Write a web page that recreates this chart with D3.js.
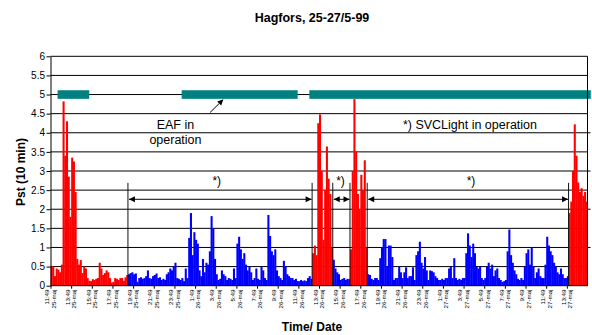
<!DOCTYPE html>
<html><head><meta charset="utf-8">
<script src="https://cdn.jsdelivr.net/npm/d3@7"></script>
<style>
body{margin:0;background:#fff}
svg{display:block;font-family:Arial,"Liberation Sans",sans-serif}
</style>
</head><body>
<svg id="c" width="592" height="335"></svg>
<script>
// Pst (10 min) values, one per 10-minute interval from 25-maj 11:49
const pst = [
  // 0-44 (no SVC)
  0.52,0.5,0.25,0.45,0.42,0.35,0.55,4.82,3.4,4.3,
  2.85,1.8,3.35,3.25,2.45,0.7,0.55,0.67,0.33,0.5,
  0.45,0.2,0.13,0.12,0.17,0.15,0.18,0.2,0.6,0.45,
  0.28,0.33,0.4,0.35,0.2,0.08,0.1,0.2,0.18,0.15,
  0.2,0.2,0.13,0.22,0.28,
  // 45-151 (SVC)
  0.3,0.33,0.35,0.3,0.32,0.1,0.2,0.22,0.18,0.2,
  0.25,0.4,0.2,0.18,0.25,0.28,0.32,0.2,0.22,0.15,
  0.18,0.15,0.3,0.35,0.45,0.4,0.5,0.6,0.2,0.18,
  0.15,0.2,0.12,0.45,0.2,1.25,1.9,0.8,1.4,1.2,
  1.1,0.4,0.25,0.7,0.35,0.6,0.55,0.9,1.82,1.5,
  0.7,0.3,0.15,0.18,0.4,0.3,0.25,0.15,0.2,0.18,
  0.15,0.45,0.2,1.1,1.28,0.95,0.7,0.85,0.55,0.4,
  0.5,0.35,0.15,0.2,0.45,0.18,0.15,0.5,0.4,0.2,
  0.15,1.85,1.3,0.9,0.8,0.95,0.4,0.25,0.2,0.15,
  0.65,0.5,0.3,0.25,0.2,0.2,0.15,0.18,0.12,0.12,
  0.15,0.12,0.14,0.12,0.2,0.25,0.18,
  // 152-163 (no SVC)
  0.85,1.05,0.8,4.25,4.48,3.0,1.2,2.5,3.64,2.8,2.4,1.0,
  // 164-173 (SVC)
  0.68,0.45,0.35,0.3,0.15,0.18,0.2,0.15,0.18,0.17,
  // 174-183 (no SVC)
  0.95,3.0,4.88,3.5,2.4,2.0,2.9,2.5,3.28,1.0,
  // 184-300 (SVC)
  0.3,0.28,0.18,0.15,0.2,0.2,0.15,0.72,1.0,1.22,
  1.22,0.5,1.05,1.05,0.75,0.15,0.2,0.2,0.5,0.35,
  0.2,0.35,0.48,0.2,0.25,0.25,0.48,0.15,0.8,0.9,
  1.15,0.6,0.45,0.75,0.4,0.15,0.4,0.38,0.35,0.25,
  0.2,0.15,0.15,0.18,0.15,0.2,0.2,0.45,0.5,0.2,
  0.72,0.2,0.15,0.18,0.15,0.2,0.2,0.85,1.37,1.05,
  0.75,1.1,0.85,0.5,0.45,0.5,0.2,0.15,0.2,0.5,
  0.6,0.45,0.55,0.25,0.4,0.45,0.2,0.15,0.1,0.12,
  0.15,0.9,1.47,0.8,0.6,0.4,0.3,0.18,0.15,0.2,
  0.15,0.5,0.85,0.95,0.55,1.0,0.5,0.2,0.35,0.45,
  0.25,0.2,0.2,0.55,1.28,1.05,0.9,0.8,0.6,0.5,
  0.35,0.3,0.45,0.3,0.2,0.2,0.25,
  // 301-311 (no SVC)
  1.9,2.2,3.0,4.22,3.4,2.7,2.45,2.55,2.35,2.45,2.2
];
const nPoints = 312;
const periodStart = [0, 45, 152, 164, 174, 184, 301];
const svcOn = [false, true, false, true, false, true, false];
const eafPeriods = [[4.1, 22.5], [76.2, 143.6], [150.4, 313.9]];
const eafLevel = 5;
const svcArrows = [[45, 152], [164, 174], [184, 301]];
const starLabelPos = [96.6, 168.5, 244.3];
const yTickValues = [0,0.5,1,1.5,2,2.5,3,3.5,4,4.5,5,5.5,6];
const tickEvery = 12;
const tickTimes = ["11:49","13:49","15:49","17:49","19:49","21:49","23:49","1:49","3:49","5:49","7:49","9:49","11:49",
  "13:49","15:49","17:49","19:49","21:49","23:49","1:49","3:49","5:49","7:49","9:49","11:49","13:49"];
const tickDates = ["25-maj","25-maj","25-maj","25-maj","25-maj","25-maj","25-maj","26-maj","26-maj","26-maj","26-maj","26-maj","26-maj",
  "26-maj","26-maj","26-maj","26-maj","26-maj","26-maj","27-maj","27-maj","27-maj","27-maj","27-maj","27-maj","27-maj"];

const svg = d3.select("#c");
const x = d3.scaleLinear().domain([0, nPoints]).range([50.5, 587.5]);
const y = d3.scaleLinear().domain([0, 6]).range([285.7, 56.3]);

function periodIndex(i){ let k = 0; periodStart.forEach((s, j) => { if (i >= s) k = j; }); return k; }

// gridlines
svg.append("g").selectAll("line").data(yTickValues.filter(v => v > 0)).join("line")
  .attr("x1", x(0)).attr("x2", x(nPoints)).attr("y1", d => y(d)).attr("y2", d => y(d))
  .attr("stroke", "#000").attr("stroke-width", 1);

// bars
svg.append("g").selectAll("rect").data(pst).join("rect")
  .attr("x", (d, i) => x(i))
  .attr("width", (d, i) => x(i + 1) - x(i) + 0.35)
  .attr("y", d => y(d))
  .attr("height", d => y(0) - y(d))
  .attr("fill", (d, i) => svcOn[periodIndex(i)] ? "#0000FF" : "#FF0000");

// EAF in operation bars
svg.append("g").selectAll("rect").data(eafPeriods).join("rect")
  .attr("x", d => x(d[0])).attr("width", d => x(d[1]) - x(d[0]))
  .attr("y", y(eafLevel) - 4.3).attr("height", 8.6)
  .attr("fill", "#008080");

// period marker lines
svg.append("g").selectAll("line").data(periodStart.slice(1)).join("line")
  .attr("x1", d => x(d)).attr("x2", d => x(d))
  .attr("y1", y(2.69)).attr("y2", y(0))
  .attr("stroke", "#111").attr("stroke-width", 1);

// arrows
const ay = y(2.26);
const ag = svg.append("g");
svgArrowsDraw();
function svgArrowsDraw(){
  svcArrows.forEach(([a, b]) => {
    const xa = x(a) + 1, xb = x(b) - 0.5;
    ag.append("line").attr("x1", xa).attr("x2", xb).attr("y1", ay).attr("y2", ay)
      .attr("stroke", "#000").attr("stroke-width", 1);
    ag.append("path").attr("d", `M${xa},${ay}L${xa+6},${ay-3}L${xa+6},${ay+3}Z`).attr("fill", "#000");
    ag.append("path").attr("d", `M${xb},${ay}L${xb-6},${ay-3}L${xb-6},${ay+3}Z`).attr("fill", "#000");
  });
}
svg.append("g").selectAll("text").data(starLabelPos).join("text")
  .attr("x", d => x(d)).attr("y", y(2.63)).attr("text-anchor", "middle")
  .attr("font-size", 12).attr("fill", "#000").text("*)");

// EAF annotation arrow
{
  const x1 = x(92.7), y1 = y(4.53), x2 = x(100.5), y2 = y(4.876);
  const ang = Math.atan2(y2 - y1, x2 - x1);
  const L = 6, W = 2.8;
  const bx = x2 - L * Math.cos(ang), by = y2 - L * Math.sin(ang);
  const px = -Math.sin(ang) * W, py = Math.cos(ang) * W;
  svg.append("line").attr("x1", x1).attr("y1", y1).attr("x2", bx).attr("y2", by)
    .attr("stroke", "#000").attr("stroke-width", 1);
  svg.append("path").attr("d", `M${x2},${y2}L${bx+px},${by+py}L${bx-px},${by-py}Z`).attr("fill", "#000");
}
svg.append("text").attr("x", x(72.6)).attr("y", y(4.1)).attr("text-anchor", "middle")
  .attr("font-size", 12.5).text("EAF in");
svg.append("text").attr("x", x(72.6)).attr("y", y(3.71)).attr("text-anchor", "middle")
  .attr("font-size", 12.5).text("operation");
svg.append("text").attr("x", x(243.7)).attr("y", y(4.1)).attr("text-anchor", "middle")
  .attr("font-size", 12.5).text("*) SVCLight in operation");

// right border + small ticks
svg.append("line").attr("x1", x(nPoints)).attr("x2", x(nPoints)).attr("y1", y(0)).attr("y2", y(6))
  .attr("stroke", "#000");
svg.append("g").selectAll("line").data([1,2,3,4]).join("line")
  .attr("x1", x(nPoints)).attr("x2", x(nPoints) + 3).attr("y1", d => y(d)).attr("y2", d => y(d))
  .attr("stroke", "#000");

// y axis
const yAxis = d3.axisLeft(y).tickValues(yTickValues).tickSize(4).tickSizeOuter(0)
  .tickFormat(d => String(d));
const yg = svg.append("g").attr("transform", `translate(${x(0)},0)`).call(yAxis);
yg.selectAll("text").attr("font-size", 10).attr("font-family", "Arial, 'Liberation Sans', sans-serif").attr("fill", "#000").attr("x", -5.5);
yg.selectAll("line,path").attr("stroke", "#000");

// x axis
const xTickIdx = tickTimes.map((t, k) => k * tickEvery);
const xAxis = d3.axisBottom(x).tickValues(xTickIdx).tickSize(3).tickSizeOuter(0).tickFormat("");
const xg = svg.append("g").attr("transform", `translate(0,${y(0)})`).call(xAxis);
xg.selectAll("line,path").attr("stroke", "#000");
xg.select(".domain").attr("d", `M${x(0)},0H${x(nPoints)}`);

const lab = svg.append("g").selectAll("text").data(xTickIdx).join("text")
  .attr("transform", d => `translate(${x(d)},289.5) rotate(-90)`)
  .attr("text-anchor", "end").attr("font-size", 6.2).attr("fill", "#000");
lab.append("tspan").attr("x", 0).attr("y", -1.3).text((d, k) => tickTimes[k]);
lab.append("tspan").attr("x", 0).attr("y", 5.3).text((d, k) => tickDates[k]);

// titles
svg.append("text").attr("x", 312).attr("y", 21.5).attr("text-anchor", "middle")
  .attr("font-size", 12.5).attr("font-weight", "bold").text("Hagfors, 25-27/5-99");
svg.append("text").attr("transform", "translate(24.5,172) rotate(-90)").attr("text-anchor", "middle")
  .attr("font-size", 12).attr("font-weight", "bold").text("Pst (10 min)");
svg.append("text").attr("x", 312).attr("y", 331).attr("text-anchor", "middle")
  .attr("font-size", 12).attr("font-weight", "bold").text("Time/ Date");
</script>
</body></html>
